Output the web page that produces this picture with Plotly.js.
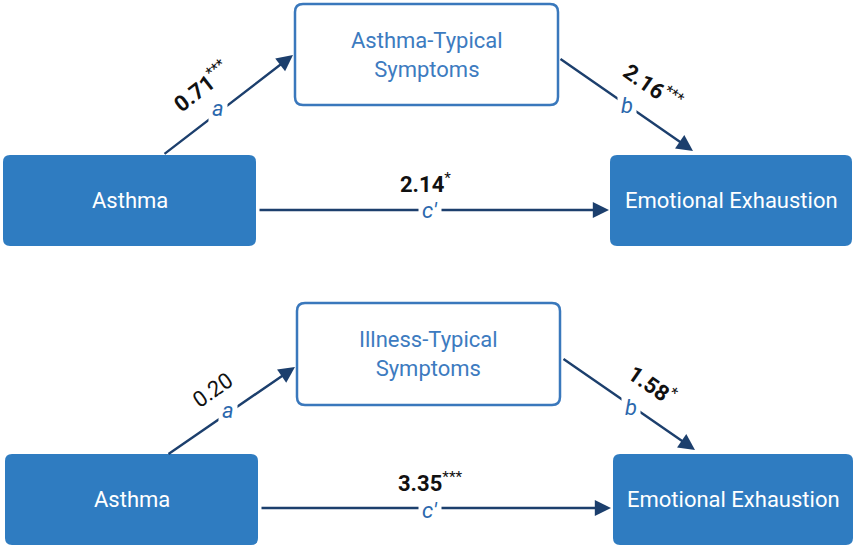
<!DOCTYPE html>
<html><head><meta charset="utf-8">
<script src="https://cdn.plot.ly/plotly-3.0.1.min.js"></script>
<style>html,body{margin:0;padding:0;background:#fff;}</style>
</head><body>
<div id="chart" style="width:854px;height:546px;"></div>
<script>
// ---- data ----
const predictors = ["Asthma", "Asthma"];
const mediators = ["Asthma-Typical<br>Symptoms", "Illness-Typical<br>Symptoms"];
const outcomes = ["Emotional Exhaustion", "Emotional Exhaustion"];
const pathA = ["0.71", "0.20"];
const pathB = ["2.16", "1.58"];
const pathC = ["2.14", "3.35"];
const starsA = ["***", ""];
const starsB = ["***", "*"];
const starsC = ["*", "***"];
const pathNames = ["a", "b", "c′"];

// ---- layout geometry (pixel space) ----
const panels = [
  {pred:[3,155,256,246], med:[295,4,558,105], out:[610,155,852,246],
   a:[163,155,293,55], b:[559,58,693,151], c:[258,210,609,210],
   la:[201,86,-38], na:[218,108], lb:[653,86,35], nb:[627,105], lc:[425,183], nc:[430,210]},
  {pred:[5,454,258,545], med:[297,303,560,405], out:[613,454,853,545],
   a:[167,455,295,367], b:[562,358,695,450], c:[260,508,611,508],
   la:[212,390,-35], na:[228,410], lb:[652,384,35], nb:[631,407], lc:[430,482], nc:[430,510]}
];
const FILL = "#2f7cc1", NAVY = "#1c3f6d", MEDTXT = "#3d7bc0", LBL = "#2b68ad";
const FONT = "Roboto, 'Open Sans', sans-serif";

function rr(b, r){
  const [x0,y0,x1,y1] = b;
  return `M${x0+r},${y0} L${x1-r},${y0} Q${x1},${y0} ${x1},${y0+r} L${x1},${y1-r} Q${x1},${y1} ${x1-r},${y1} L${x0+r},${y1} Q${x0},${y1} ${x0},${y1-r} L${x0},${y0+r} Q${x0},${y0} ${x0+r},${y0} Z`;
}
const shapes = [], arrows = [], labels = [];
panels.forEach((p, i) => {
  shapes.push({type:"path", path: rr(p.pred,7), fillcolor: FILL, line:{width:0}, layer:"below"});
  shapes.push({type:"path", path: rr(p.out,7), fillcolor: FILL, line:{width:0}, layer:"below"});
  shapes.push({type:"path", path: rr(p.med,8), fillcolor: "#ffffff", line:{color:"#3a78bc", width:2.5}, layer:"below"});
  const cx = b => (b[0]+b[2])/2, cy = b => (b[1]+b[3])/2;
  labels.push({x:cx(p.pred), y:cy(p.pred), text:predictors[i], showarrow:false, font:{family:FONT,size:22,color:"#fff"}});
  labels.push({x:cx(p.out), y:cy(p.out), text:outcomes[i], showarrow:false, font:{family:FONT,size:22,color:"#fff"}});
  labels.push({x:cx(p.med), y:cy(p.med), text:mediators[i], showarrow:false, font:{family:FONT,size:22,color:MEDTXT}});
  [p.a, p.b, p.c].forEach(ar => {
    arrows.push({x:ar[2], y:ar[3], ax:ar[0], ay:ar[1], axref:"x", ayref:"y", xref:"x", yref:"y",
      text:"", showarrow:true, arrowhead:2, arrowsize:1.35, arrowwidth:2.4, arrowcolor:NAVY, standoff:0});
  });
  const coef = (v, s, sig) => (sig ? "<b>"+v+"</b>" : v) + (s ? "<sup>"+s+"</sup>" : "");
  labels.push({x:p.la[0], y:p.la[1], textangle:p.la[2], text:coef(pathA[i], starsA[i], starsA[i]!==""), showarrow:false, font:{family:FONT,size:22,color:"#111"}});
  labels.push({x:p.lb[0], y:p.lb[1], textangle:p.lb[2], text:coef(pathB[i], starsB[i], true), showarrow:false, font:{family:FONT,size:22,color:"#111"}});
  labels.push({x:p.lc[0], y:p.lc[1], text:coef(pathC[i], starsC[i], true), showarrow:false, font:{family:FONT,size:22,color:"#111"}});
  [[p.na, pathNames[0]], [p.nb, pathNames[1]], [p.nc, pathNames[2]]].forEach(([pos, t]) => {
    labels.push({x:pos[0], y:pos[1], text:"<i>"+t+"</i>", showarrow:false, bgcolor:"#fff", borderpad:3,
      font:{family:FONT,size:22,color:LBL}});
  });
});

const layout = {
  width:854, height:546, margin:{l:0,r:0,t:0,b:0},
  paper_bgcolor:"#fff", plot_bgcolor:"#fff", showlegend:false,
  xaxis:{range:[0,854], visible:false, fixedrange:true},
  yaxis:{range:[546,0], visible:false, fixedrange:true},
  shapes: shapes,
  annotations: arrows.concat(labels)
};
Plotly.newPlot("chart", [{x:[0], y:[0], mode:"markers", marker:{opacity:0}, hoverinfo:"skip"}], layout, {staticPlot:true});
</script>
</body></html>
